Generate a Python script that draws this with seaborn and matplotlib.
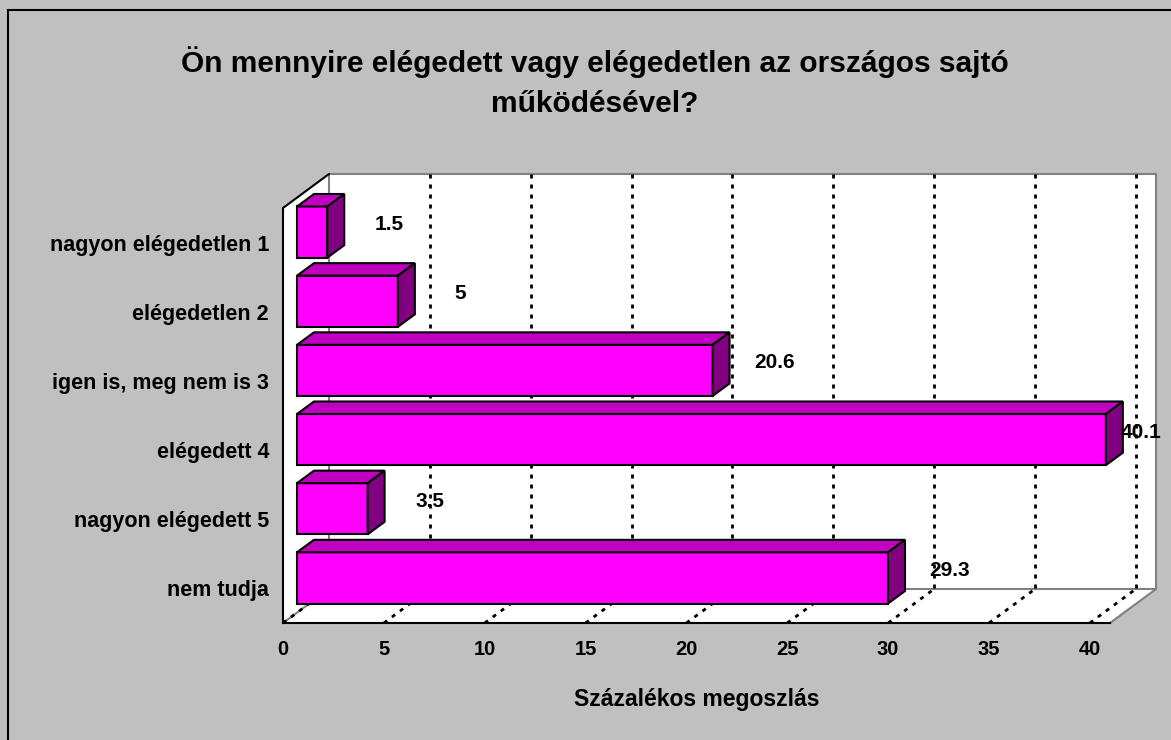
"""
3D-style horizontal bar chart: satisfaction with the national press
"""
import numpy as np
import pandas as pd
import matplotlib
matplotlib.use("Agg")
import matplotlib.pyplot as plt
from matplotlib.patches import Polygon, Rectangle
import seaborn as sns

# Data
categories = ["nagyon elégedetlen 1", "elégedetlen 2", "igen is, meg nem is 3",
              "elégedett 4", "nagyon elégedett 5", "nem tudja"]
values = [1.5, 5, 20.6, 40.1, 3.5, 29.3]
value_labels = ["1.5", "5", "20.6", "40.1", "3.5", "29.3"]
x_ticks = [0, 5, 10, 15, 20, 25, 30, 35, 40]
x_max = 41

title = "Ön mennyire elégedett vagy elégedetlen az országos sajtó\nműködésével?"
x_label = "Százalékos megoszlás"

# Colours
BG = "#C0C0C0"
FRONT = "#FF00FF"
TOP = "#C000C0"
SIDE = "#800080"
WALL_EDGE = "#808080"

# 3D depth in pixels (dx right, dy up)
WALL_DEPTH = (46, 34)
BAR_OFFSET = (14, 10.5)
BAR_DEPTH = (17, 12.5)

sns.set_theme(style="white")
plt.rcParams["font.family"] = ["Liberation Sans", "DejaVu Sans"]
plt.rcParams["font.weight"] = "bold"
plt.rcParams["axes.labelweight"] = "bold"
for key in ["text.color", "axes.labelcolor", "xtick.color", "ytick.color"]:
    plt.rcParams[key] = "black"

W, H = 1171, 740
fig = plt.figure(figsize=(W / 100, H / 100), dpi=100, facecolor=BG)

# outer chart frame (cut off at right / bottom)
fig.add_artist(Rectangle((8 / W, -0.1), 1.2, 1 - 9.5 / H + 0.1,
                         transform=fig.transFigure, fill=False,
                         edgecolor="black", linewidth=1.5))

ax = fig.add_axes([283 / W, (H - 623) / H, 827 / W, 415 / H])
ax.set_facecolor("none")

df = pd.DataFrame({"kategoria": categories, "ertek": values})
sns.barplot(data=df, x="ertek", y="kategoria", orient="h", color=FRONT,
            saturation=1, width=0.74, edgecolor="black", linewidth=1.5,
            ax=ax, zorder=3)

ax.set_xlim(0, x_max)
ax.set_ylim(len(categories) - 0.5, -0.5)

# pixel -> data conversion for the fake depth
o = ax.transData.transform((0, 0))
e = ax.transData.transform((1, 1))
ux, uy = e - o


def px2data(dx, dy):
    return dx / ux, dy / uy


wdx, wdy = px2data(*WALL_DEPTH)
y_top, y_bot = -0.5, len(categories) - 0.5

# white back wall + floor + side wall
box = [(0, y_bot), (x_max, y_bot), (x_max + wdx, y_bot + wdy),
       (x_max + wdx, y_top + wdy), (wdx, y_top + wdy), (0, y_top)]
ax.add_patch(Polygon(box, closed=True, facecolor="white", edgecolor="none",
                     zorder=0, clip_on=False))

# wall edges
edge_kw = dict(color=WALL_EDGE, linewidth=1.5, zorder=1, clip_on=False)
ax.plot([wdx, x_max + wdx, x_max + wdx], [y_top + wdy, y_top + wdy, y_bot + wdy], **edge_kw)
ax.plot([x_max + wdx, x_max], [y_bot + wdy, y_bot], **edge_kw)
ax.plot([wdx, x_max + wdx], [y_bot + wdy, y_bot + wdy], **edge_kw)
ax.plot([wdx, wdx], [y_top + wdy, y_bot + wdy], **edge_kw)
ax.plot([0, wdx], [y_bot, y_bot + wdy], **edge_kw)
ax.plot([0, wdx], [y_top, y_top + wdy], color="black", linewidth=1.5,
        zorder=2, clip_on=False)

# dotted gridlines on back wall and floor
dots = (0, (1.45, 2.15))
for t in x_ticks:
    if t > 0:
        ax.plot([t + wdx, t + wdx], [y_top + wdy, y_bot + wdy], color="black",
                linewidth=2, linestyle=dots, zorder=1, clip_on=False)
    ax.plot([t, t + wdx], [y_bot, y_bot + wdy], color="black",
            linewidth=2, linestyle=dots, zorder=1, clip_on=False)

# turn the flat bars into boxes
fx, fy = px2data(*BAR_OFFSET)
bx, by = px2data(*BAR_DEPTH)
for patch in ax.patches:
    if not isinstance(patch, Rectangle) or patch.get_facecolor()[:3] != matplotlib.colors.to_rgb(FRONT):
        continue
    x0 = patch.get_x() + fx
    y0 = patch.get_y() + fy
    w, h = patch.get_width(), patch.get_height()
    patch.set_x(x0)
    patch.set_y(y0)
    patch.set_clip_on(False)
    top = [(x0, y0), (x0 + w, y0), (x0 + w + bx, y0 + by), (x0 + bx, y0 + by)]
    side = [(x0 + w, y0), (x0 + w + bx, y0 + by), (x0 + w + bx, y0 + h + by), (x0 + w, y0 + h)]
    ax.add_patch(Polygon(top, closed=True, facecolor=TOP, edgecolor="black",
                         linewidth=1.5, zorder=3, clip_on=False))
    ax.add_patch(Polygon(side, closed=True, facecolor=SIDE, edgecolor="black",
                         linewidth=1.5, zorder=3, clip_on=False))

# value labels, pushed back inside the chart when they would run off the wall
right_px = ax.transData.transform((x_max + wdx, 0))[0]
for i, (v, lbl) in enumerate(zip(values, value_labels)):
    vx = ax.transData.transform((v, i))[0]
    dx = min(76, right_px - 15 - vx)
    ax.annotate(lbl, xy=(v, i), xytext=(dx, 18), textcoords="offset pixels",
                ha="center", va="center", fontsize=15, fontweight="bold",
                zorder=6, annotation_clip=False)

# axes styling
sns.despine(ax=ax, top=True, right=True)
for side_name in ["left", "bottom"]:
    ax.spines[side_name].set_color("black")
    ax.spines[side_name].set_linewidth(1.5)
    ax.spines[side_name].set_zorder(4)

ax.set_xticks(x_ticks)
ax.tick_params(axis="x", direction="out", length=5, width=1.5, color="black",
               labelsize=14.5, pad=7)
ax.set_yticks(np.arange(y_top, y_bot + 1), minor=True)
ax.tick_params(axis="y", which="major", length=0, labelsize=15.5, pad=10)
ax.tick_params(axis="y", which="minor", direction="out", length=5,
               width=1.5, color="black")
ax.set_ylabel("")
ax.set_xlabel(x_label, fontsize=16.5, labelpad=21)

fig.text(0.508, 1 - 82 / H, title, ha="center", va="center", fontsize=21.5,
         fontweight="bold", linespacing=1.53)

plt.savefig("out.png", dpi=100, facecolor=BG)
